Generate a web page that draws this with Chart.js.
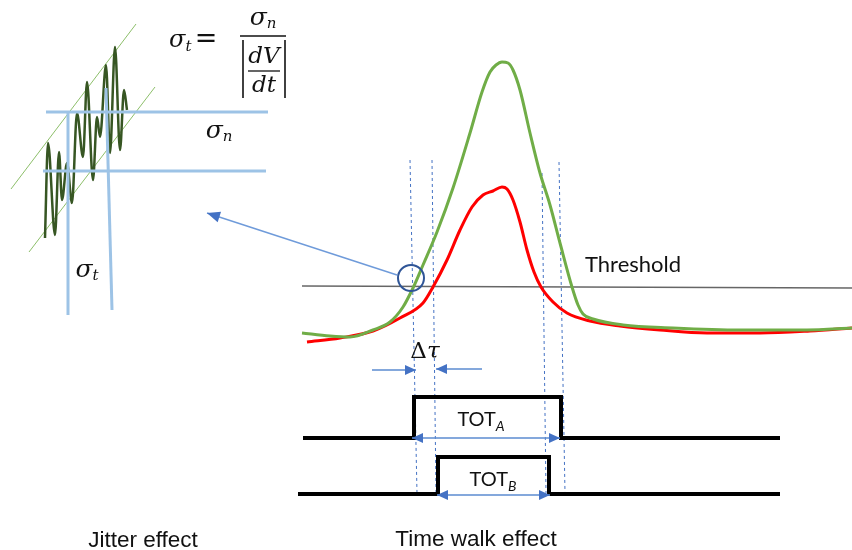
<!DOCTYPE html>
<html><head><meta charset="utf-8">
<script src="https://cdn.jsdelivr.net/npm/chart.js@4.4.0/dist/chart.umd.min.js"></script>
<style>html,body{margin:0;padding:0;background:#fff;}canvas{display:block;}</style>
</head><body>
<canvas id="c" width="852" height="550"></canvas>
<script>
// ---- Data (time axis → x, amplitude axis → y, canvas units) ----
const greenPulseT = [302,330,350,373,390,403,413,423,437,453,470,482,490,496,502,508,513,520,530,540,550,560,572,578,583,593,623,673,740,807,852];
const greenPulseV = [333,336,337,330,322,307,288,265,232,188,133,92,72,65,62,63,70,90,133,173,205,243,287,305,314,319,325,328,330,330,328];
const redPulseT   = [307,340,373,400,423,433,447,460,472,483,493,502,507,513,520,527,534,541,553,567,590,620,660,707,760,810,852];
const redPulseV   = [342,338,331,318,303,287,260,230,207,195,191,187,189,200,222,250,272,287,302,313,321,326,330,333,333,331,328];
const thresholdT  = [302,852];
const thresholdV  = [286,288];
const crossTopT   = [410,432,542,559];
const crossBotT   = [417,436,546,565];
const crossTopV   = [160,160,173,162];
const crossBotV   = [493,493,493,493];
const totA_T = [303,414,414,561,561,780];
const totA_V = [438,438,397,397,438,438];
const totB_T = [298,438,438,549,549,780];
const totB_V = [494,494,457,457,494,494];
const totArrowA_T = [412,560], totArrowA_V = [438,438];
const totArrowB_T = [437,550], totArrowB_V = [495,495];
const dtauLeftT = [372,416], dtauLeftV = [370,370];
const dtauRightT = [482,436], dtauRightV = [369,369];
const jitterArrowT = [397,207], jitterArrowV = [275,213];
const zoomCircleT = [411], zoomCircleV = [278];
// Jitter panel
const noiseT = [45,48,55,59,62,67,72,77,83,87,93,97,100,106,110,115,120,124,127];
const noiseV = [238,143,235,152,200,163,203,113,157,82,180,117,137,65,153,47,150,90,110];
const bandUpperT = [11,136], bandUpperV = [189,24];
const bandLowerT = [29,155], bandLowerV = [252,87];
const levelTopT = [46,268], levelTopV = [112,112];
const levelBotT = [43,266], levelBotV = [171,171];
const timeLeftT = [68,68],  timeLeftV = [112,315];
const timeRightT = [106,112], timeRightV = [88,310];

const pts = (xs, ys) => xs.map((x, i) => ({x, y: ys[i]}));

const datasets = [];
function line(xs, ys, color, width, extra) {
  datasets.push(Object.assign({
    data: pts(xs, ys), showLine: true, borderColor: color, backgroundColor: color,
    borderWidth: width, pointRadius: 0, tension: 0, fill: false
  }, extra || {}));
}
crossTopT.forEach((t, i) => line([t, crossBotT[i]], [crossTopV[i], crossBotV[i]], '#4472C4', 1, {borderDash: [3, 3], order: 20}));
line(thresholdT, thresholdV, '#666666', 1.6, {order: 15});
line(redPulseT, redPulseV, '#FF0000', 3, {cubicInterpolationMode: 'monotone', order: 12});
line(greenPulseT, greenPulseV, '#70AD47', 3, {cubicInterpolationMode: 'monotone', order: 11});
line(totA_T, totA_V, '#000000', 4, {order: 8, borderJoinStyle: 'miter'});
line(totB_T, totB_V, '#000000', 4, {order: 8, borderJoinStyle: 'miter'});
line(totArrowA_T, totArrowA_V, '#5B8BD0', 1.3, {order: 5, arrow: {start: true, end: true}});
line(totArrowB_T, totArrowB_V, '#5B8BD0', 1.3, {order: 5, arrow: {start: true, end: true}});
line(dtauLeftT, dtauLeftV, '#5B8BD0', 1.3, {order: 5, arrow: {end: true}});
line(dtauRightT, dtauRightV, '#5B8BD0', 1.3, {order: 5, arrow: {end: true}});
line(jitterArrowT, jitterArrowV, '#6F9BDA', 1.4, {order: 5, arrow: {end: true, len: 13, half: 5.5}});
datasets.push({data: pts(zoomCircleT, zoomCircleV), pointRadius: 13, pointStyle: 'circle',
  borderColor: '#2F5597', backgroundColor: 'rgba(0,0,0,0)', pointBorderWidth: 2, showLine: false, order: 2});
line(bandUpperT, bandUpperV, '#8DBF6A', 1, {order: 18});
line(bandLowerT, bandLowerV, '#8DBF6A', 1, {order: 18});
line(noiseT, noiseV, '#375623', 2.5, {cubicInterpolationMode: 'monotone', order: 16});
line(levelTopT, levelTopV, '#9DC3E6', 3, {order: 14});
line(levelBotT, levelBotV, '#9DC3E6', 3, {order: 14});
line(timeLeftT, timeLeftV, '#9DC3E6', 3, {order: 14});
line(timeRightT, timeRightV, '#9DC3E6', 3, {order: 14});

const MATH = '"DejaVu Serif", serif';
const SANS = '"Liberation Sans", Arial, sans-serif';
const CAL = 'Lato, "Open Sans", sans-serif';

const labels = [
  {at: [585, 265], align: 'left', parts: [{t: 'Threshold', f: '22px ' + CAL}]},
  {at: [481, 420], align: 'center', parts: [{t: 'TOT', f: '20px ' + CAL}, {t: 'A', f: 'italic 14px ' + CAL, dy: 6}]},
  {at: [493, 480], align: 'center', parts: [{t: 'TOT', f: '20px ' + CAL}, {t: 'B', f: 'italic 14px ' + CAL, dy: 6}]},
  {at: [425, 352], align: 'center', parts: [{t: 'Δ', f: '23px ' + MATH}, {t: 'τ', f: 'italic 23px ' + MATH}]},
  {at: [219, 131], align: 'center', parts: [{t: 'σ', f: 'italic 25px ' + MATH}, {t: 'n', f: 'italic 15px ' + MATH, dy: 6}]},
  {at: [87, 270], align: 'center', parts: [{t: 'σ', f: 'italic 25px ' + MATH}, {t: 't', f: 'italic 15px ' + MATH, dy: 6}]},
  {at: [143, 541], align: 'center', parts: [{t: 'Jitter effect', f: '22.5px ' + SANS}]},
  {at: [476, 540], align: 'center', parts: [{t: 'Time walk effect', f: '22.5px ' + SANS}]},
  {at: [169, 41], align: 'left', parts: [{t: 'σ', f: 'italic 24px ' + MATH}, {t: 't', f: 'italic 15px ' + MATH, dy: 6}]},
  {at: [206, 40], align: 'center', parts: [{t: '=', f: '27px ' + MATH}]},
  {at: [263, 18], align: 'center', parts: [{t: 'σ', f: 'italic 25px ' + MATH}, {t: 'n', f: 'italic 15px ' + MATH, dy: 6}]},
  {at: [264, 57], align: 'center', parts: [{t: 'dV', f: 'italic 23px ' + MATH}]},
  {at: [264, 86], align: 'center', parts: [{t: 'dt', f: 'italic 23px ' + MATH}]}
];
const formulaRules = [
  {x: [240, 286], y: [36, 36], w: 1.5},
  {x: [248, 280], y: [71, 71], w: 1.3},
  {x: [243, 243], y: [40, 98], w: 1.6},
  {x: [285, 285], y: [40, 98], w: 1.6}
];

const annotate = {
  id: 'annotate',
  beforeDraw(chart) {
    const c = chart.ctx; c.save(); c.fillStyle = '#fff'; c.fillRect(0, 0, chart.width, chart.height); c.restore();
  },
  afterDatasetsDraw(chart) {
    const c = chart.ctx, sx = chart.scales.x, sy = chart.scales.y;
    const X = v => sx.getPixelForValue(v), Y = v => sy.getPixelForValue(v);
    c.save();
    chart.data.datasets.forEach((ds, i) => {
      if (!ds.arrow) return;
      const m = chart.getDatasetMeta(i).data;
      const len = ds.arrow.len || 11, half = ds.arrow.half || 5;
      const head = (tip, from) => {
        const dx = tip.x - from.x, dy = tip.y - from.y, d = Math.hypot(dx, dy);
        const ux = dx / d, uy = dy / d;
        const bx = tip.x - ux * len, by = tip.y - uy * len;
        c.beginPath(); c.moveTo(tip.x, tip.y);
        c.lineTo(bx - uy * half, by + ux * half); c.lineTo(bx + uy * half, by - ux * half);
        c.closePath(); c.fillStyle = '#4472C4'; c.fill();
      };
      if (ds.arrow.end) head(m[m.length - 1], m[m.length - 2]);
      if (ds.arrow.start) head(m[0], m[1]);
    });
    c.strokeStyle = '#111'; c.lineCap = 'butt';
    formulaRules.forEach(r => {
      c.lineWidth = r.w; c.beginPath(); c.moveTo(X(r.x[0]), Y(r.y[0])); c.lineTo(X(r.x[1]), Y(r.y[1])); c.stroke();
    });
    c.fillStyle = '#111'; c.textBaseline = 'middle'; c.textAlign = 'left';
    labels.forEach(l => {
      let w = 0;
      l.parts.forEach(p => { c.font = p.f; p.w = c.measureText(p.t).width; w += p.w; });
      let cx = X(l.at[0]); const cy = Y(l.at[1]);
      if (l.align === 'center') cx -= w / 2; else if (l.align === 'right') cx -= w;
      l.parts.forEach(p => { c.font = p.f; c.fillText(p.t, cx, cy + (p.dy || 0)); cx += p.w; });
    });
    c.restore();
  }
};

new Chart(document.getElementById('c'), {
  type: 'scatter',
  data: {datasets},
  options: {
    responsive: false, animation: false, devicePixelRatio: 1,
    layout: {padding: 0, autoPadding: false},
    plugins: {legend: {display: false}, tooltip: {enabled: false}},
    events: [],
    scales: {
      x: {type: 'linear', min: 0, max: 852, display: false},
      y: {type: 'linear', min: 0, max: 550, reverse: true, display: false}
    },
    clip: false
  },
  plugins: [annotate]
});
</script>
</body></html>
